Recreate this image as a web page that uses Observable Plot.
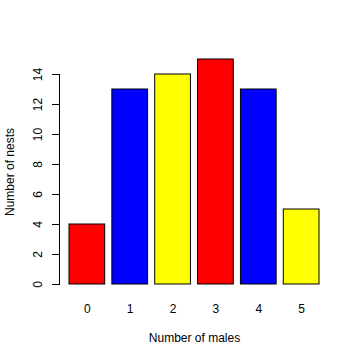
<!DOCTYPE html>
<html>
<head>
<meta charset="utf-8">
<script src="https://cdn.jsdelivr.net/npm/d3@7"></script>
<script src="https://cdn.jsdelivr.net/npm/@observablehq/plot@0.6"></script>
<style>
  html, body { margin: 0; padding: 0; background: #fff; }
  svg { display: block; }
</style>
</head>
<body>
<div id="chart"></div>
<script>
const males = ["0", "1", "2", "3", "4", "5"];
const nests = [4, 13, 14, 15, 13, 5];
const barColors = ["#ff0000", "#0000ff", "#ffff00", "#ff0000", "#0000ff", "#ffff00"];
const yTicks = [0, 2, 4, 6, 8, 10, 12, 14];
const xLabel = "Number of males";
const yLabel = "Number of nests";

const data = males.map((m, i) => ({males: m, nests: nests[i], color: barColors[i]}));

const chart = Plot.plot({
  width: 360,
  height: 360,
  marginLeft: 59,
  marginRight: 31,
  marginTop: 74,
  marginBottom: 76,
  style: {fontFamily: "'Liberation Sans', Arial, sans-serif", fontSize: "12px", background: "#fff", color: "#000"},
  x: {type: "band", domain: males, range: [69, 319], paddingInner: 1/6, paddingOuter: 0, round: false, axis: null},
  y: {domain: [0, 14], axis: null},
  color: {type: "identity"},
  marks: [
    Plot.barY(data, {x: "males", y: "nests", fill: "color", stroke: "#000", strokeWidth: 1}),
    Plot.frame({anchor: "left", stroke: "#000"}),
    Plot.axisY(yTicks, {anchor: "left", tickSize: 7, tickRotate: -90, tickPadding: 0, text: null, label: null}),
    Plot.text(yTicks, {y: d => d, text: d => String(d), frameAnchor: "left", dx: -21, rotate: -90, textAnchor: "middle", lineAnchor: "middle", fill: "#000", fontSize: 12}),
    Plot.text(data, {x: "males", text: "males", frameAnchor: "bottom", dy: 24.5, textAnchor: "middle", lineAnchor: "middle", fill: "#000", fontSize: 12}),
    Plot.text([xLabel], {text: d => d, frameAnchor: "bottom", dy: 53.5, textAnchor: "middle", lineAnchor: "middle", fill: "#000", fontSize: 12}),
    Plot.text([yLabel], {y: () => 7.5, text: d => d, frameAnchor: "left", dx: -49, rotate: -90, textAnchor: "middle", lineAnchor: "middle", fill: "#000", fontSize: 12})
  ]
});
document.getElementById("chart").appendChild(chart);
</script>
</body>
</html>
